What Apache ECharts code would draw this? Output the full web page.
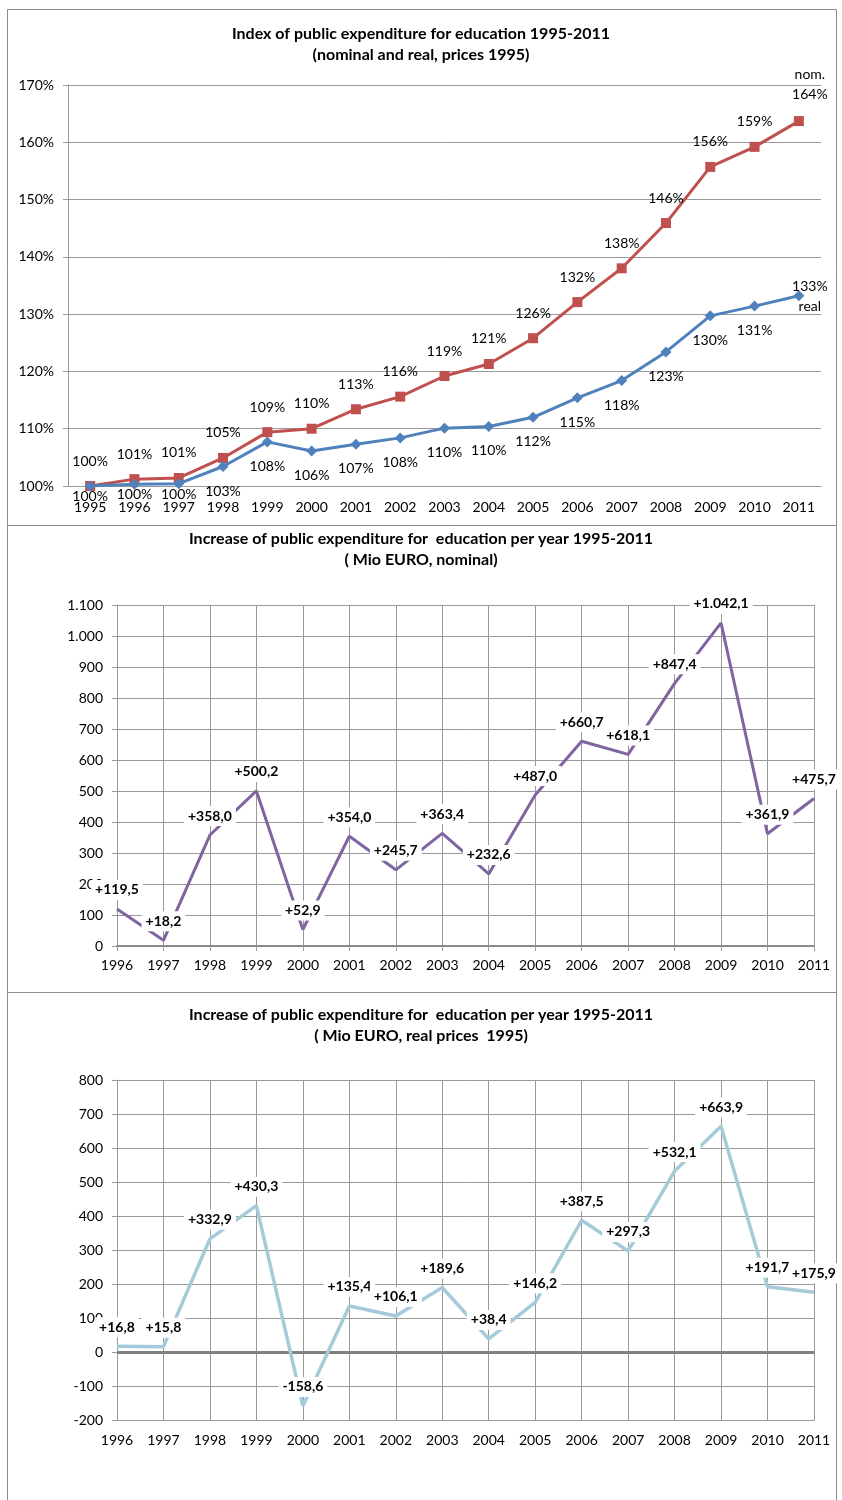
<!DOCTYPE html>
<html>
<head>
<meta charset="utf-8">
<script src="https://cdn.jsdelivr.net/npm/echarts@6/dist/echarts.min.js"></script>
<style>
  html, body { margin: 0; padding: 0; background: #fff; }
  #chart { width: 842px; height: 1500px; }
</style>
</head>
<body>
<div id="chart"></div>
<script>
// index chart (percent, 1995 = 100)
const years1 = ["1995", "1996", "1997", "1998", "1999", "2000", "2001", "2002", "2003",
  "2004", "2005", "2006", "2007", "2008", "2009", "2010", "2011"];
const nominalIndex = [100, 101.2, 101.4, 104.9, 109.4, 110, 113.4, 115.6, 119.2, 121.3,
  125.8, 132.1, 138, 145.9, 155.7, 159.2, 163.7];
const realIndex = [100, 100.3, 100.4, 103.4, 107.7, 106.1, 107.3, 108.4, 110.1, 110.4,
  112, 115.4, 118.4, 123.4, 129.7, 131.4, 133.2];

// yearly increase, Mio EURO
const years2 = ["1996", "1997", "1998", "1999", "2000", "2001", "2002", "2003",
  "2004", "2005", "2006", "2007", "2008", "2009", "2010", "2011"];
const increaseNominal = [119.5, 18.2, 358.0, 500.2, 52.9, 354.0, 245.7, 363.4, 232.6,
  487.0, 660.7, 618.1, 847.4, 1042.1, 361.9, 475.7];
const increaseReal = [16.8, 15.8, 332.9, 430.3, -158.6, 135.4, 106.1, 189.6, 38.4,
  146.2, 387.5, 297.3, 532.1, 663.9, 191.7, 175.9];

const FONT = "Lato, 'Open Sans', sans-serif";
const GRID_GRAY = "#999";

// german number format: +1.042,1
const fmtDe = (v, plus) => {
  const [i, d] = Math.abs(v).toFixed(1).split(".");
  const int = i.replace(/\B(?=(\d{3})+(?!\d))/g, ".");
  return (v < 0 ? "-" : plus ? "+" : "") + int + "," + d;
};

const pct = (v) => Math.round(v) + "%";

const last = years1.length - 1;
const nominalData = nominalIndex.map((v, i) =>
  i === last
    ? { value: v, label: { formatter: "nom.\n" + pct(v), position: "top", offset: [11, -2] } }
    : v
);
// first three real labels sit squeezed against the axis, like excel does it
const realData = realIndex.map((v, i) => {
  if (i === last) {
    return { value: v, label: { formatter: pct(v) + "\nreal", position: "inside", offset: [11, 1] } };
  }
  if (i < 3) return { value: v, label: { offset: [0, -14] } };
  return v;
});

const axisText = { color: "#000", fontFamily: FONT, fontSize: 14 };
const boldLabel = {
  show: true,
  position: "top",
  distance: 9,
  color: "#000",
  fontFamily: FONT,
  fontSize: 14,
  fontWeight: "bold",
  backgroundColor: "#fff",
  padding: [3, 4],
  formatter: (p) => fmtDe(p.value, true)
};

const chart = echarts.init(document.getElementById("chart"));
chart.setOption({
  backgroundColor: "#fff",
  animation: false,
  title: [
    { text: "Index of public expenditure for education 1995-2011\n(nominal and real, prices 1995)", top: 18 },
    { text: "Increase of public expenditure for  education per year 1995-2011\n( Mio EURO, nominal)", top: 523 },
    { text: "Increase of public expenditure for  education per year 1995-2011\n( Mio EURO, real prices  1995)", top: 999 }
  ].map((t) => ({
    ...t,
    left: "center",
    textStyle: { fontFamily: FONT, fontSize: 16, fontWeight: "bold", color: "#000", lineHeight: 21 }
  })),
  graphic: [
    { type: "rect", shape: { x: 7.5, y: 9.5, width: 829, height: 516 } },
    { type: "rect", shape: { x: 7.5, y: 525.5, width: 829, height: 467 } },
    { type: "rect", shape: { x: 7.5, y: 992.5, width: 829, height: 520 } }
  ].map((g) => ({ ...g, style: { fill: "none", stroke: "#8c8c8c", lineWidth: 1 }, silent: true })),
  grid: [
    { left: 68, right: 21, top: 85, height: 401 },
    { left: 117, right: 28, top: 605, height: 341 },
    { left: 117, right: 28, top: 1080, height: 340 }
  ],
  xAxis: [
    {
      gridIndex: 0,
      type: "category",
      data: years1,
      axisLine: { lineStyle: { color: GRID_GRAY } },
      axisTick: { length: 5, lineStyle: { color: GRID_GRAY } },
      axisLabel: { ...axisText, margin: 14, interval: 0 }
    },
    {
      gridIndex: 1,
      type: "category",
      data: years2,
      boundaryGap: false,
      axisLine: { lineStyle: { color: "#8c8c8c", width: 2 } },
      axisTick: { length: 5, alignWithLabel: true, lineStyle: { color: GRID_GRAY } },
      axisLabel: { ...axisText, margin: 12, interval: 0 },
      splitLine: { show: true, lineStyle: { color: GRID_GRAY } }
    },
    {
      gridIndex: 2,
      type: "category",
      data: years2,
      boundaryGap: false,
      axisLine: { onZero: false, lineStyle: { color: GRID_GRAY } },
      axisTick: { show: false },
      axisLabel: { ...axisText, margin: 13, interval: 0 },
      splitLine: { show: true, lineStyle: { color: GRID_GRAY } }
    }
  ],
  yAxis: [
    {
      gridIndex: 0,
      type: "value",
      min: 100,
      max: 170,
      interval: 10,
      axisLine: { show: true, lineStyle: { color: GRID_GRAY } },
      axisTick: { show: true, length: 5, lineStyle: { color: GRID_GRAY } },
      axisLabel: { ...axisText, margin: 14, formatter: (v) => v + "%" },
      splitLine: { lineStyle: { color: GRID_GRAY } }
    },
    {
      gridIndex: 1,
      type: "value",
      min: 0,
      max: 1100,
      interval: 100,
      axisLine: { show: true, lineStyle: { color: GRID_GRAY } },
      axisTick: { show: true, length: 5, lineStyle: { color: GRID_GRAY } },
      axisLabel: { ...axisText, margin: 14, formatter: (v) => fmtDe(v, false).replace(/,0$/, "") },
      splitLine: { lineStyle: { color: GRID_GRAY } }
    },
    {
      gridIndex: 2,
      type: "value",
      min: -200,
      max: 800,
      interval: 100,
      axisLine: { show: true, lineStyle: { color: GRID_GRAY } },
      axisTick: { show: true, length: 5, lineStyle: { color: GRID_GRAY } },
      axisLabel: { ...axisText, margin: 14 },
      splitLine: { lineStyle: { color: GRID_GRAY } }
    }
  ],
  series: [
    {
      name: "nominal",
      type: "line",
      xAxisIndex: 0,
      yAxisIndex: 0,
      data: nominalData,
      symbol: "rect",
      symbolSize: 10,
      lineStyle: { color: "#C0504D", width: 3 },
      itemStyle: { color: "#C0504D" },
      label: {
        show: true,
        position: "top",
        distance: 10,
        color: "#000",
        fontFamily: FONT,
        fontSize: 14,
        lineHeight: 20,
        formatter: (p) => pct(p.value)
      },
      z: 3
    },
    {
      name: "real",
      type: "line",
      xAxisIndex: 0,
      yAxisIndex: 0,
      data: realData,
      symbol: "diamond",
      symbolSize: 11,
      lineStyle: { color: "#4F81BD", width: 3 },
      itemStyle: { color: "#4F81BD" },
      label: {
        show: true,
        position: "bottom",
        distance: 9,
        color: "#000",
        fontFamily: FONT,
        fontSize: 14,
        lineHeight: 20,
        formatter: (p) => pct(p.value)
      },
      z: 4
    },
    {
      name: "increase nominal",
      type: "line",
      xAxisIndex: 1,
      yAxisIndex: 1,
      data: increaseNominal,
      symbol: "circle",
      symbolSize: 0,
      showSymbol: true,
      lineStyle: { color: "#8064A2", width: 3 },
      itemStyle: { color: "#8064A2" },
      label: boldLabel,
      z: 3
    },
    {
      name: "increase real",
      type: "line",
      xAxisIndex: 2,
      yAxisIndex: 2,
      data: increaseReal,
      symbol: "circle",
      symbolSize: 0,
      showSymbol: true,
      lineStyle: { color: "#A5CAD9", width: 3.5 },
      itemStyle: { color: "#A5CAD9" },
      label: boldLabel,
      z: 3,
      markLine: {
        silent: true,
        symbol: "none",
        label: { show: false },
        lineStyle: { color: "#808080", width: 3, type: "solid" },
        data: [{ yAxis: 0 }],
        z: 1
      }
    }
  ]
});
</script>
</body>
</html>
